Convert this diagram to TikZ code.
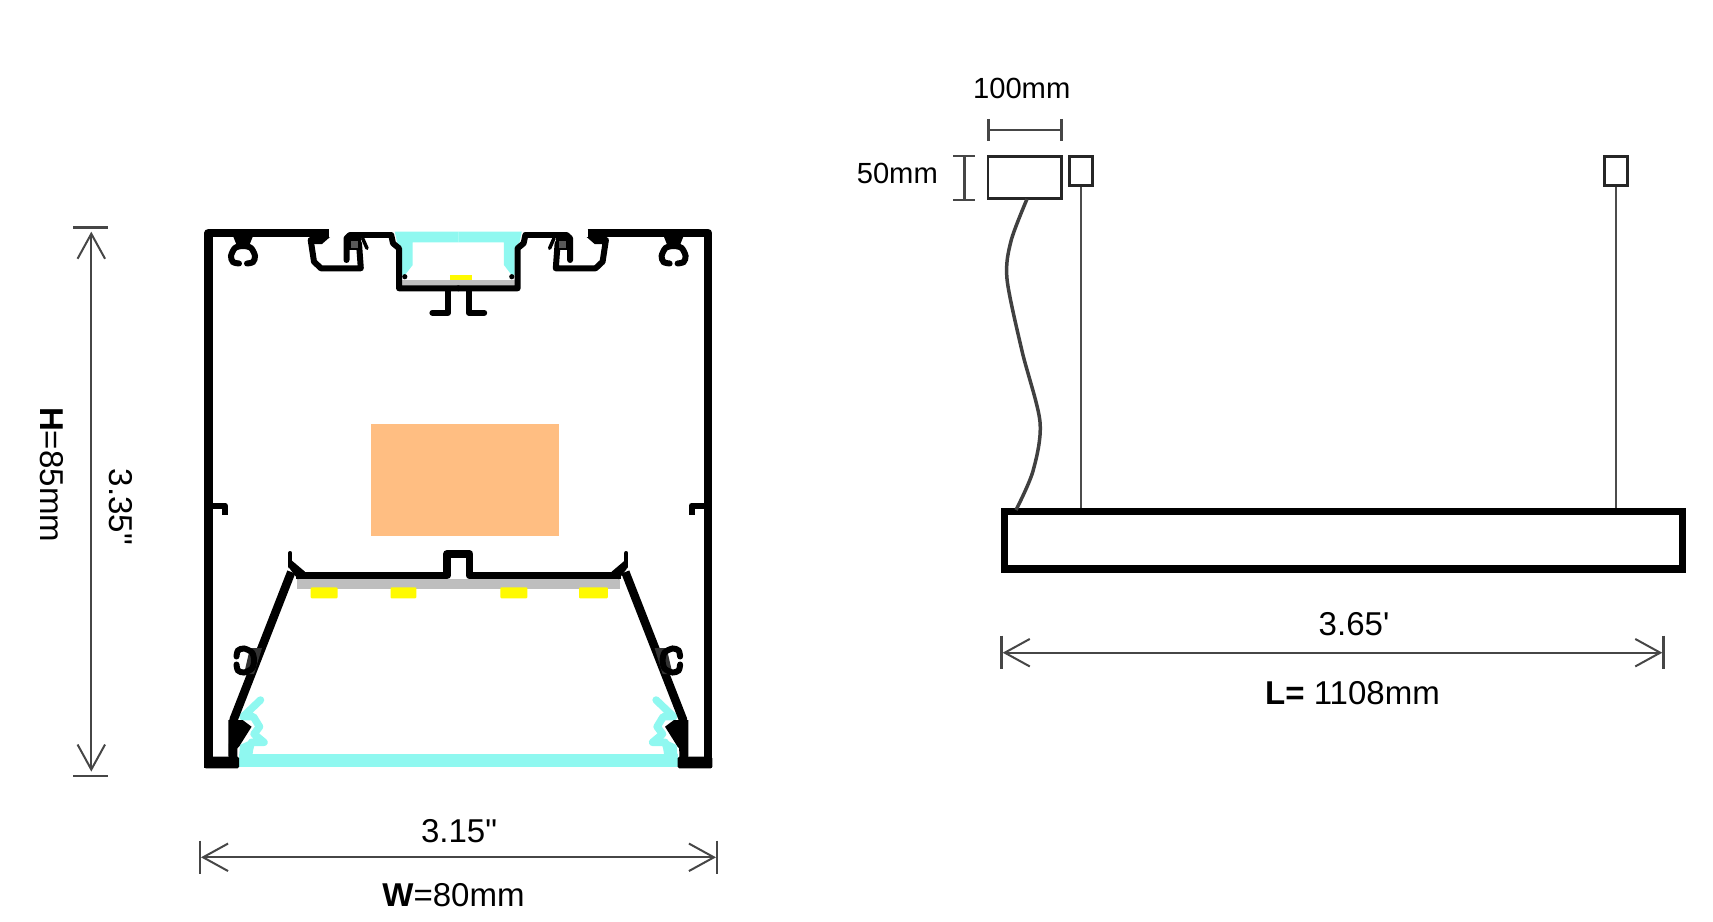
\documentclass[tikz,border=0pt]{standalone}
\usepackage{fontspec}
\setmainfont{Liberation Sans}[Ligatures=TeXOff]
\usetikzlibrary{arrows.meta}
\definecolor{lenscyan}{RGB}{143,248,240}
\definecolor{boardgray}{RGB}{190,190,190}
\definecolor{ledyellow}{RGB}{255,250,0}
\definecolor{driverorange}{RGB}{255,190,130}
\definecolor{dimgray}{RGB}{70,70,70}
\tikzset{
    wall/.style={line width=0.175cm, line join=round},
    thinwall/.style={line width=0.12cm, line join=round, line cap=round},
    clipline/.style={line width=0.12cm, line cap=round},
    dimline/.style={<->, dimgray, line width=0.04cm},
    tickline/.style={dimgray, line width=0.05cm},
    smalldim/.style={dimgray, line width=0.05cm},
    boxline/.style={draw=black!85, line width=0.055cm, inner sep=0pt},
    rodline/.style={black!70, line width=0.04cm},
    bigtext/.style={font=\fontsize{18.8}{22}\selectfont, inner sep=0pt},
    smalltext/.style={font=\fontsize{16.6}{20}\selectfont, inner sep=0pt},
}
\begin{document}
\begin{tikzpicture}[x=0.02cm, y=-0.02cm, >={Straight Barb[length=0.5cm, width=0.55cm]}]
    \useasboundingbox (0,0) rectangle (1713,922);
    \fill[driverorange] (370.8,424) rectangle (558.8,535.7);
    \newcommand{\ringclip}[3]{
        \draw[clipline, shift={(#1,#2)}, rotate=#3] plot[smooth] coordinates
            {(-4,9.5) (-10,8) (-12,2) (-8,-6) (0,-8) (8,-6) (12,2) (10,8) (4,9.5)};
    }
    \newcommand{\lenshalf}{
        \fill[lenscyan] (394.8,231.7) -- (458.3,231.7) -- (458.3,242.3) -- (412.7,242.3)
            -- (412.7,265) -- (405,275) -- (402,275) -- (402,248) -- (397,242) -- cycle;
        \fill[lenscyan] (239,754) rectangle (458.3,767.3);
        \fill[lenscyan] (240,745) -- (255,738) -- (252,758) -- (239,758) -- cycle;
        \draw[lenscyan, line width=0.15cm, line join=round, line cap=round]
            (260.5,700) -- (243,716.7) -- (253.4,716.7) -- (259.5,726.7) -- (254,734)
            -- (264,742.3) -- (251.6,742.3) -- (246,758);
    }
    \newcommand{\profilehalf}{
        \draw[wall] (329,233) -- (208.6,233) -- (208.6,768.3);
        \fill[rounded corners=0.03cm] (204.3,756.7) rectangle (239,768.3);
        \fill (310,237) -- (330,237) -- (322,244) -- (310.7,244) -- cycle;
        \draw[thinwall] (310.7,240) -- (314,261.7) -- (321,268.3) -- (360.8,268.3) -- (359,243.3);
        \draw[thinwall] (346.5,260) -- (346.5,238.3) -- (350,235) -- (391.2,235)
            -- (393,243.3) -- (399,248.3) -- (399,288.3) -- (458.3,288.3);
        \fill (346,236) rectangle (361,250);
        \fill[black!65] (351,241) rectangle (358,248);
        \draw[line width=0.07cm, line cap=round] (362.6,238.3) -- (367,248.3);
        \fill (404.8,276.7) circle [radius=2.6];
        \draw[thinwall] (447.8,290) -- (447.8,312.7) -- (432.4,312.7);
        \fill (233,236) -- (253,236) -- (249,246) -- (237,246) -- cycle;
        \ringclip{243}{254}{0}
        \draw[thinwall, line cap=butt] (213,505.5) -- (225,505.5) -- (225,515);
        \draw[line width=0.155cm, line join=round] (296,575.5) -- (447,575.5) -- (447,554) -- (458.3,554);
        \draw[line width=0.08cm, line cap=round] (290.3,553) -- (290.3,566.7);
        \fill (290,559) -- (305,571.7) -- (298,579.3) -- (290,569) -- cycle;
        \draw[line width=0.17cm, line join=round] (291.3,572) -- (233.7,719.3) -- (233,757);
        \fill[black!80] (250,648) -- (262,648) -- (254,674) -- (244,674) -- cycle;
        \ringclip{246}{660.5}{-90}
        \fill (228.3,720) -- (242.6,720) -- (251.6,726.7) -- (239,746.7) -- (228.3,756.7) -- cycle;
    }
    \lenshalf
    \begin{scope}[shift={(916.6,0)}, xscale=-1]
        \lenshalf
    \end{scope}
    \fill[boardgray] (402,280) rectangle (514.7,286.7);
    \fill[ledyellow] (450.3,275) rectangle (471.8,280);
    \fill[boardgray] (297.4,579.3) rectangle (620.3,589.3);
    \foreach \ledx/\ledend in {310.7/337.5, 390.5/416.3, 500.4/527.3, 579/607.8}
        \fill[ledyellow, rounded corners=0.02cm] (\ledx,587.3) rectangle (\ledend,598.3);
    \profilehalf
    \begin{scope}[shift={(916.6,0)}, xscale=-1]
        \profilehalf
    \end{scope}
    \coordinate (heighttop) at (91.3,231.7);
    \coordinate (heightbot) at (91.3,771.6);
    \coordinate (widthleft) at (201,857.3);
    \coordinate (widthright) at (716,857.3);
    \draw[dimline] (heighttop) -- (heightbot);
    \draw[tickline] (heighttop) ++(-18,-4.4) -- ++(34.4,0);
    \draw[tickline] (heightbot) ++(-18,4.4) -- ++(34.4,0);
    \draw[dimline] (widthleft) -- (widthright);
    \draw[tickline] (widthleft) ++(-1,-16.6) -- ++(0,33.2);
    \draw[tickline] (widthright) ++(1,-16.6) -- ++(0,33.2);
    \node[bigtext] (heighttext) at (52,474.6) [rotate=-90] {\textbf{H}=85mm};
    \node[bigtext] (heightinch) at (120.6,507) [rotate=-90] {3.35"};
    \node[bigtext] (widthinch) at (459,831) {3.15"};
    \node[bigtext] (widthtext) at (453.5,895) {\textbf{W}=80mm};
    \node[boxline, minimum width=1.47cm, minimum height=0.832cm] (driver) at (1024.8,177.5) {};
    \node[boxline, minimum width=0.46cm, minimum height=0.58cm] (canopyleft) at (1081,171.2) {};
    \node[boxline, minimum width=0.46cm, minimum height=0.58cm] (canopyright) at (1616,171.2) {};
    \draw[line width=0.15cm] (1004.7,511.5) rectangle (1682.5,569);
    \coordinate (barleft) at (1081,508);
    \coordinate (barright) at (1616,508);
    \draw[rodline] (canopyleft.south) -- (barleft);
    \draw[rodline] (canopyright.south) -- (barright);
    \draw[black!75, line width=0.07cm] plot[smooth] coordinates
        {(1027,199) (1011,241) (1007,279) (1022,351) (1040,422) (1033,471) (1016,510)};
    \coordinate (lengthleft) at (1002.7,652.7);
    \coordinate (lengthright) at (1662.3,652.7);
    \draw[dimline] (lengthleft) -- (lengthright);
    \draw[tickline] (lengthleft) ++(-1,-17) -- ++(0,33);
    \draw[tickline] (lengthright) ++(1,-17) -- ++(0,33);
    \node[bigtext] (lengthfeet) at (1354,624) {3.65'};
    \node[bigtext] (lengthtext) at (1352.5,693.5) {\textbf{L=} 1108mm};
    \coordinate (boxwleft) at (988.3,130);
    \coordinate (boxwright) at (1061.7,130);
    \draw[smalldim] (boxwleft) -- (boxwright);
    \draw[smalldim] (boxwleft) ++(0,-11) -- ++(0,22);
    \draw[smalldim] (boxwright) ++(0,-11) -- ++(0,22);
    \coordinate (boxhtop) at (964.3,156);
    \coordinate (boxhbot) at (964.3,200);
    \draw[smalldim] (boxhtop) -- (boxhbot);
    \draw[smalldim] (boxhtop) ++(-11,0) -- ++(22,0);
    \draw[smalldim] (boxhbot) ++(-11,0) -- ++(22,0);
    \node[smalltext] (boxwtext) at (1021.7,88.3) {100mm};
    \node[smalltext] (boxhtext) at (897.3,173.3) {50mm};
\end{tikzpicture}
\end{document}
